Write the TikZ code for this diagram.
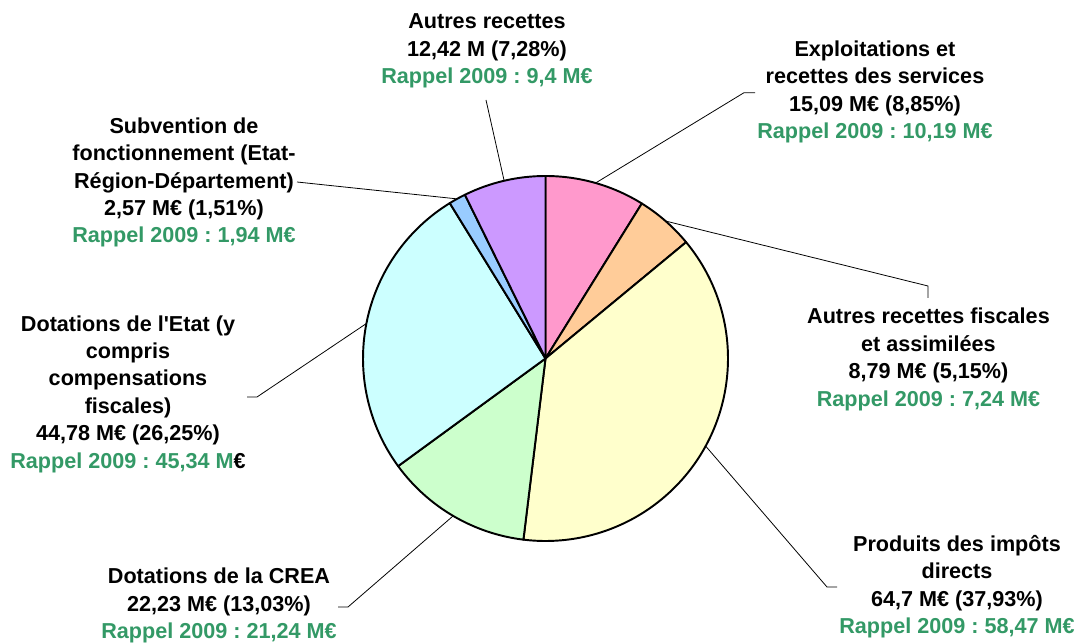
\documentclass[tikz,border=0pt]{standalone}
\usepackage{fontspec}
\setmainfont{Liberation Sans}
\usetikzlibrary{calc}
\definecolor{rappel}{RGB}{51,153,102}
\definecolor{pinkS}{RGB}{255,153,204}
\definecolor{orangeS}{RGB}{255,204,153}
\definecolor{yellowS}{RGB}{255,255,204}
\definecolor{greenS}{RGB}{204,255,204}
\definecolor{cyanS}{RGB}{204,255,255}
\definecolor{blueS}{RGB}{153,204,255}
\definecolor{purpleS}{RGB}{204,153,255}
\newcommand{\pieR}{182.5}

\begin{document}
\frenchspacing
\begin{tikzpicture}[x=0.02cm,y=0.02cm,
  lbl/.style={align=center,inner sep=0pt,font=\bfseries\fontsize{12.3}{15.6}\selectfont},
  leader/.style={black,line width=0.45pt},
  slice/.style={draw=black,line width=1.1pt,line join=round}]
\useasboundingbox (0,0) rectangle (1080,643);
\coordinate (c) at (545.5,284.5);
% slices, clockwise from the top
\filldraw[slice,fill=pinkS] (c) -- ++(90:\pieR) arc (90:58.14:\pieR) -- cycle;
\filldraw[slice,fill=orangeS] (c) -- ++(58.14:\pieR) arc (58.14:39.6:\pieR) -- cycle;
\filldraw[slice,fill=yellowS] (c) -- ++(39.6:\pieR) arc (39.6:-96.95:\pieR) -- cycle;
\filldraw[slice,fill=greenS] (c) -- ++(-96.95:\pieR) arc (-96.95:-143.86:\pieR) -- cycle;
\filldraw[slice,fill=cyanS] (c) -- ++(-143.86:\pieR) arc (-143.86:-238.36:\pieR) -- cycle;
\filldraw[slice,fill=blueS] (c) -- ++(-238.36:\pieR) arc (-238.36:-243.79:\pieR) -- cycle;
\filldraw[slice,fill=purpleS] (c) -- ++(-243.79:\pieR) arc (-243.79:-270:\pieR) -- cycle;

% labels
\node[lbl] (autres) at (487,592) {Autres recettes\\12,42 M (7,28\%)\\\textcolor{rappel}{Rappel 2009 : 9,4 M€}};
\node[lbl] (exploit) at (875,551) {Exploitations et\\recettes des services\\15,09 M€ (8,85\%)\\\textcolor{rappel}{Rappel 2009 : 10,19 M€}};
\node[lbl] (fiscal) at (928.5,283.5) {Autres recettes fiscales\\et assimilées\\8,79 M€ (5,15\%)\\\textcolor{rappel}{Rappel 2009 : 7,24 M€}};
\node[lbl] (impots) at (957,56.5) {Produits des impôts\\directs\\64,7 M€ (37,93\%)\\\textcolor{rappel}{Rappel 2009 : 58,47 M€}};
\node[lbl] (crea) at (219,37.5) {Dotations de la CREA\\22,23 M€ (13,03\%)\\\textcolor{rappel}{Rappel 2009 : 21,24 M€}};
\node[lbl] (etat) at (128,249) {Dotations de l\textquotesingle Etat (y\\compris\\compensations\\fiscales)\\44,78 M€ (26,25\%)\\\textcolor{rappel}{Rappel 2009 : 45,34 M}€};
\node[lbl] (subv) at (184,460.5) {Subvention de\\fonctionnement (Etat-\\Région-Département)\\2,57 M€ (1,51\%)\\\textcolor{rappel}{Rappel 2009 : 1,94 M€}};

% leader lines
\coordinate (eAutres) at ($(c)+(103.1:\pieR)$);
\coordinate (eExploit) at ($(c)+(74.07:\pieR)$);
\coordinate (eFiscal) at ($(c)+(48.87:\pieR)$);
\coordinate (eImpots) at ($(c)+(-28.67:\pieR)$);
\coordinate (eCrea) at ($(c)+(-120.4:\pieR)$);
\coordinate (eEtat) at ($(c)+(168.95:\pieR)$);
\coordinate (eSubv) at ($(c)+(119:\pieR)$);
\coordinate (tAutres) at (486,543);
\coordinate (kExploit) at (744,550.3);
\coordinate (tExploit) at (755,550.3);
\coordinate (kFiscal) at (928,357);
\coordinate (tFiscal) at (928,345);
\coordinate (kImpots) at (827,56);
\coordinate (tImpots) at (837,56);
\coordinate (kCrea) at (348,36);
\coordinate (tCrea) at (338,36);
\coordinate (kEtat) at (257,246);
\coordinate (tEtat) at (247,246);
\coordinate (tSubv) at (297,461);
\draw[leader] (eAutres) -- (tAutres);
\draw[leader] (eExploit) -- (kExploit) -- (tExploit);
\draw[leader] (eFiscal) -- (kFiscal) -- (tFiscal);
\draw[leader] (eImpots) -- (kImpots) -- (tImpots);
\draw[leader] (eCrea) -- (kCrea) -- (tCrea);
\draw[leader] (eEtat) -- (kEtat) -- (tEtat);
\draw[leader] (eSubv) -- (tSubv);
\end{tikzpicture}
\end{document}
